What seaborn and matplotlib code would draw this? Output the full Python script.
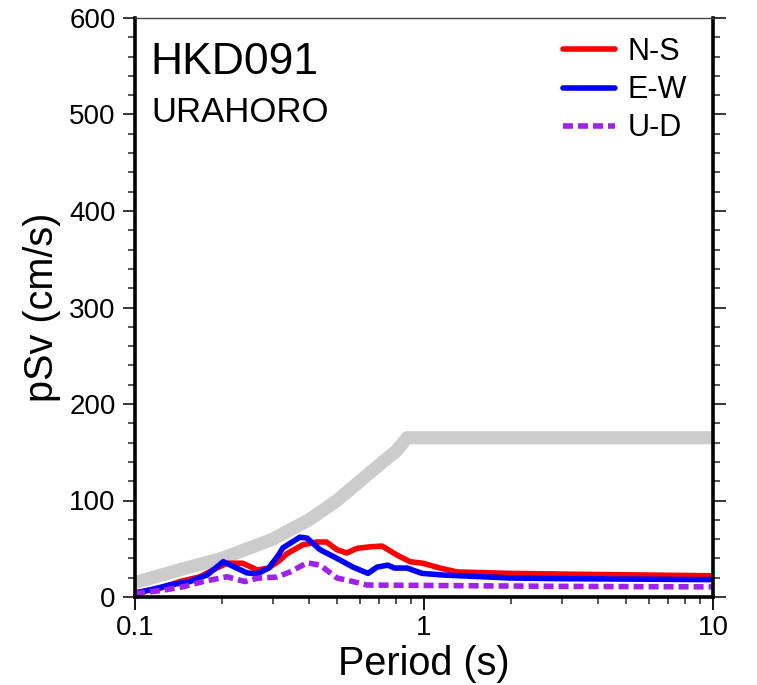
import numpy as np
import pandas as pd
import matplotlib
matplotlib.use("Agg")
import matplotlib.pyplot as plt
import seaborn as sns
from matplotlib.ticker import LogLocator, NullFormatter, FixedLocator, MultipleLocator

sns.set_theme(style="white")
plt.rcParams['font.family'] = ['Liberation Sans', 'DejaVu Sans']

# ---- data ----
ref_T = [0.1, 0.15, 0.2, 0.3, 0.4, 0.5, 0.6, 0.7, 0.8, 0.874, 10]
ref_v = [15, 30, 40, 60, 80, 100, 120, 137, 151, 165, 165]

ns_T = [0.1, 0.105, 0.122, 0.143, 0.168, 0.186, 0.208, 0.236, 0.265, 0.29, 0.317,
        0.336, 0.38, 0.426, 0.46, 0.5, 0.54, 0.586, 0.65, 0.716, 0.806, 0.895,
        0.99, 1.136, 1.3, 1.98, 2.95, 5.0, 10.0]
ns_v = [4.5, 5.5, 9, 16, 21, 28, 35, 35, 28, 30, 38,
        45, 54, 57, 57, 49, 45.6, 50.4, 52, 52.8, 43.5, 36.6,
        35, 30, 26, 24.5, 23.8, 23, 22]

ew_T = [0.1, 0.115, 0.132, 0.155, 0.178, 0.202, 0.244, 0.265, 0.29, 0.313, 0.325,
        0.372, 0.394, 0.437, 0.5, 0.568, 0.64, 0.688, 0.75, 0.79, 0.874, 0.984,
        1.16, 1.98, 3.0, 10.0]
ew_v = [4, 8, 12.5, 16, 23, 36.6, 25, 24, 30, 43, 51,
        62, 61, 49, 40, 31, 24.5, 31, 33, 30, 30, 24.5,
        22.8, 19.7, 19, 18]

ud_T = [0.1, 0.125, 0.147, 0.172, 0.208, 0.24, 0.265, 0.31, 0.344, 0.394, 0.437,
        0.5, 0.568, 0.635, 1.0, 3.0, 10.0]
ud_v = [3.5, 7, 10.7, 16, 21, 16, 19.5, 20.7, 26, 35.5, 33,
        19.7, 16, 12.4, 12, 11, 10.5]

station = "HKD091"
place = "URAHORO"
x_ticks = [0.1, 1, 10]
x_ticklabels = ["0.1", "1", "10"]
y_ticks = [0, 100, 200, 300, 400, 500, 600]

# ---- figure ----
fig = plt.figure(figsize=(7.57, 6.85), dpi=100)
ax = fig.add_axes([135/757, 1-597/685, (713-135)/757, (597-18)/685])

sns.lineplot(x=ref_T, y=ref_v, ax=ax, color="#cccccc", linewidth=9.5, sort=False,
             solid_capstyle="butt", label="_nolegend_")
sns.lineplot(x=ns_T, y=ns_v, ax=ax, color="#ff0000", linewidth=4.0, sort=False, label="N-S")
sns.lineplot(x=ew_T, y=ew_v, ax=ax, color="#0000ff", linewidth=4.0, sort=False, label="E-W")
sns.lineplot(x=ud_T, y=ud_v, ax=ax, color="#a020f0", linewidth=4.0, sort=False,
             linestyle=(0, (1.8, 0.9)), label="U-D")

ax.set_xscale("log")
ax.set_xlim(0.1, 10)
ax.set_ylim(0, 600)

ax.xaxis.set_major_locator(FixedLocator(x_ticks))
ax.set_xticklabels(x_ticklabels)
ax.xaxis.set_minor_locator(LogLocator(base=10, subs=np.arange(2, 10)))
ax.xaxis.set_minor_formatter(NullFormatter())
ax.yaxis.set_major_locator(FixedLocator(y_ticks))
ax.yaxis.set_minor_locator(MultipleLocator(20))

ax.tick_params(axis="x", which="major", direction="out", length=9, width=1.3,
               labelsize=20, pad=4, colors="black", bottom=True, top=False)
ax.tick_params(axis="x", which="minor", direction="out", length=5, width=1.1,
               bottom=True, top=False)
ax.tick_params(axis="y", which="major", direction="out", length=9, width=1.3,
               labelsize=20, pad=5, left=True, right=True)
ax.tick_params(axis="y", which="minor", direction="out", length=5, width=1.1,
               left=True, right=True)
ax.tick_params(labelcolor="black")

for side in ["left", "bottom", "right"]:
    ax.spines[side].set_visible(True)
    ax.spines[side].set_color("black")
    ax.spines[side].set_linewidth(2.6)
ax.spines["top"].set_visible(True)
ax.spines["top"].set_color("#444444")
ax.spines["top"].set_linewidth(1.0)

ax.set_xlabel("Period (s)", fontsize=28.5, labelpad=3, color="black")
ax.set_ylabel("pSv (cm/s)", fontsize=28.5, labelpad=6, color="black")

ax.text(0.027, 0.903, station, transform=ax.transAxes, fontsize=32, ha="left",
        va="baseline", color="black")
ax.text(0.029, 0.820, place, transform=ax.transAxes, fontsize=25, ha="left",
        va="baseline", color="black")

leg = ax.legend(loc="upper left", bbox_to_anchor=((563-135)/578, (597-37)/579),
                frameon=False, fontsize=22, handlelength=1.7, handletextpad=0.42,
                labelspacing=0.27, borderaxespad=0, borderpad=0)
for t in leg.get_texts():
    t.set_color("black")

fig.savefig("out.png", dpi=100, facecolor="white")
